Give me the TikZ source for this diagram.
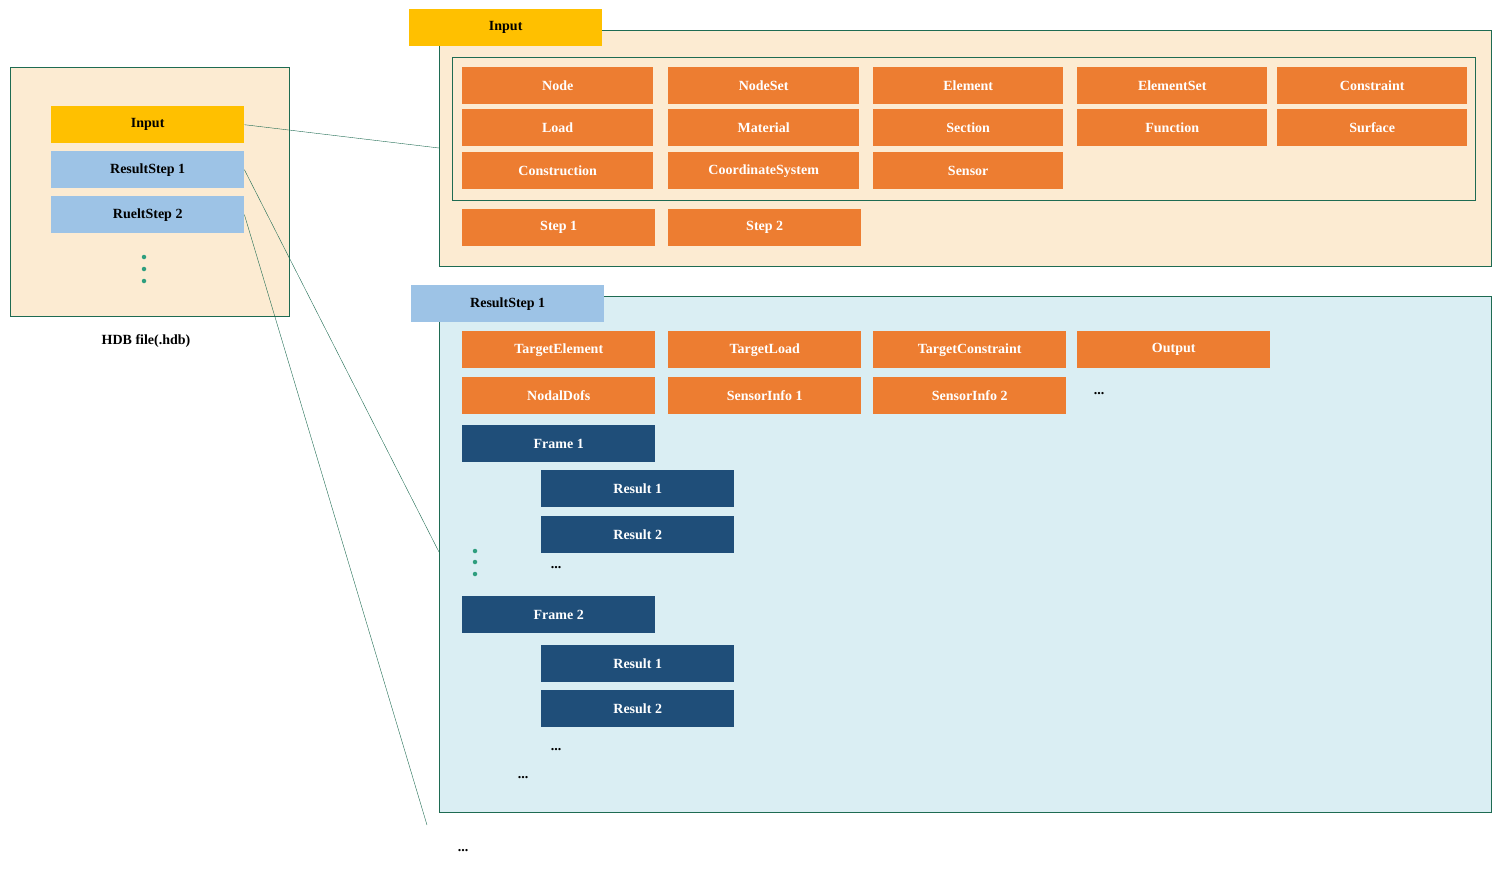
\documentclass[tikz,border=0pt]{standalone}
\usepackage{fontspec}
\setmainfont{Liberation Serif}
\usetikzlibrary{positioning}
\definecolor{beige}{HTML}{FCEBD2}
\definecolor{pale}{HTML}{DAEEF3}
\definecolor{frame}{HTML}{1E6B52}
\definecolor{teal}{HTML}{2E9E7E}
\definecolor{gold}{HTML}{FFC000}
\definecolor{sky}{HTML}{9DC3E6}
\definecolor{orange}{HTML}{ED7D31}
\definecolor{navy}{HTML}{1F4E79}
\tikzset{
  blk/.style={anchor=north west,minimum width=193pt,minimum height=37pt,inner sep=0pt,font=\fontsize{14}{16}\selectfont\bfseries},
  yel/.style={blk,fill=gold,text=black},
  sky/.style={blk,fill=sky,text=black},
  org/.style={blk,fill=orange,text=white},
  nav/.style={blk,fill=navy,text=white},
  dot/.style={circle,fill=teal,inner sep=0pt,minimum size=4.5pt},
  txt/.style={font=\fontsize{14}{16}\selectfont\bfseries}
}
\begin{document}
\begin{tikzpicture}[x=1pt,y=-1pt]
  \useasboundingbox (0,0) rectangle (1501,878);
  % HDB file
  \draw[frame,fill=beige,thick] (10,67) rectangle (289,316);
  \node[yel] (in) at (51,106) {Input};
  \node[sky] (rs1) at (51,151) {ResultStep 1};
  \node[sky] (rs2) at (51,196) {RueltStep 2};
  \foreach \y in {257,269,281} \node[dot] at (144,\y) {};
  \node[txt] (hdb) at (146,341) {HDB file(.hdb)};
  % input block
  \draw[frame,fill=beige,thick] (439,30) coordinate (inbox) rectangle (1491,266);
  \node[yel] (intab) at (409,9) {Input};
  \draw[frame,thick] (452,57) rectangle (1475,200);
  \node[org,minimum width=191pt] (node) at (462,67) {Node};
  \node[org,minimum width=191pt] (nset) at (668,67) {NodeSet};
  \node[org,minimum width=190pt] (elem) at (873,67) {Element};
  \node[org,minimum width=190pt] (eset) at (1077,67) {ElementSet};
  \node[org,minimum width=190pt] (cons) at (1277,67) {Constraint};
  \node[org,minimum width=191pt] (load) at (462,109) {Load};
  \node[org,minimum width=191pt] (mat) at (668,109) {Material};
  \node[org,minimum width=190pt] (sec) at (873,109) {Section};
  \node[org,minimum width=190pt] (fun) at (1077,109) {Function};
  \node[org,minimum width=190pt] (surf) at (1277,109) {Surface};
  \node[org,minimum width=191pt] (constr) at (462,152) {Construction};
  \node[org,minimum width=191pt] (csys) at (668,152) {CoordinateSystem};
  \node[org,minimum width=190pt] (sens) at (873,152) {Sensor};
  \node[org] (st1) at (462,209) {Step 1};
  \node[org] (st2) at (668,209) {Step 2};
  % result step block
  \draw[frame,fill=pale,thick] (439,296) rectangle (1491,812);
  \node[sky] (rstab) at (411,285) {ResultStep 1};
  \node[org] (tel) at (462,331) {TargetElement};
  \node[org] (tld) at (668,331) {TargetLoad};
  \node[org] (tcs) at (873,331) {TargetConstraint};
  \node[org] (out) at (1077,331) {Output};
  \node[org] (ndof) at (462,377) {NodalDofs};
  \node[org] (si1) at (668,377) {SensorInfo 1};
  \node[org] (si2) at (873,377) {SensorInfo 2};
  \node[txt] at (1099,394) {...};
  \node[nav] (fr1) at (462,425) {Frame 1};
  \node[nav] (r11) at (541,470) {Result 1};
  \node[nav] (r12) at (541,516) {Result 2};
  \node[txt] at (556,568) {...};
  \foreach \y in {551,562,574} \node[dot] at (475,\y) {};
  \node[nav] (fr2) at (462,596) {Frame 2};
  \node[nav] (r21) at (541,645) {Result 1};
  \node[nav] (r22) at (541,690) {Result 2};
  \node[txt] at (556,750) {...};
  \node[txt] at (523,778) {...};
  \node[txt] at (463,851) {...};
  % links
  \coordinate (a) at (439,148);
  \coordinate (b) at (439,552);
  \coordinate (c) at (427,825);
  \draw[frame] (in.east) -- (a);
  \draw[frame] (rs1.east) -- (b);
  \draw[frame] (rs2.east) -- (c);
\end{tikzpicture}
\end{document}
